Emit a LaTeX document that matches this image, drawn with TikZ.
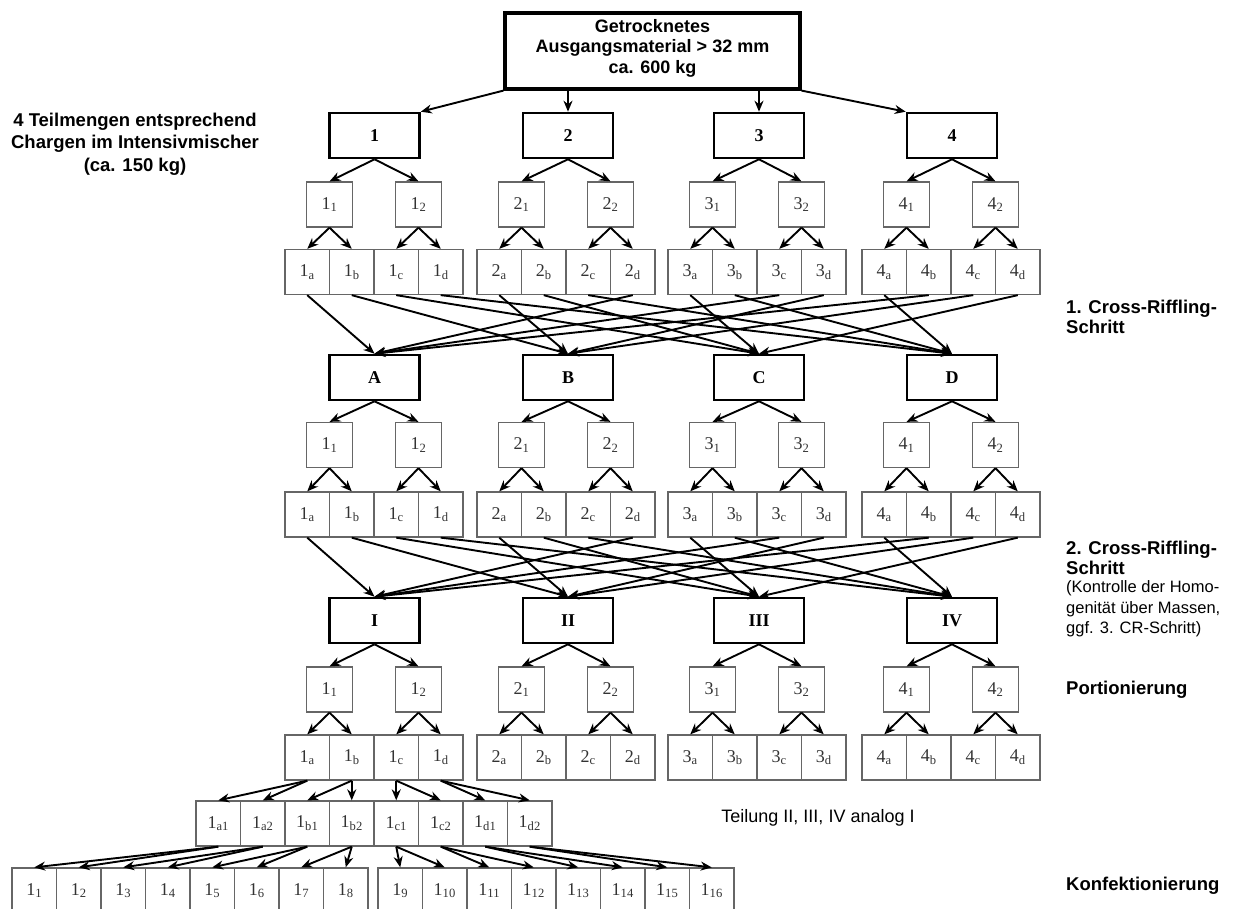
\documentclass[tikz,border=0pt]{standalone}
\usepackage{fontspec}
\setmainfont{Liberation Serif}
\setsansfont{Liberation Sans}
\usetikzlibrary{arrows.meta}

\begin{document}
\begin{tikzpicture}[x=1pt, y=-1pt]
    \tikzstyle{source} = [rectangle, draw, line width=3.2pt, minimum width=295pt, minimum height=76pt, inner sep=0pt, text depth=10pt, align=center, font=\sffamily\bfseries\fontsize{18}{20.5}\selectfont]
    \tikzstyle{batch} = [rectangle, draw, line width=2.6pt, minimum width=90pt, minimum height=45pt, inner sep=0pt, font=\bfseries\fontsize{18}{18}\selectfont]
    \tikzstyle{part} = [rectangle, draw=black!60, line width=1.3pt, minimum width=46pt, minimum height=45pt, inner sep=0pt, text=black!80, font=\fontsize{18}{18}\selectfont]
    \tikzstyle{cell} = [part, minimum width=44.5pt]
    \tikzstyle{arrow} = [line width=1.9pt, -{Stealth[length=11pt, width=9pt]}]
    \tikzstyle{stage} = [inner sep=0pt, align=left, font=\sffamily\bfseries\fontsize{18.5}{20.5}\selectfont]
    \tikzstyle{remark} = [inner sep=0pt, align=left, font=\sffamily\fontsize{16.5}{20.5}\selectfont]

    \useasboundingbox (0,0) rectangle (1241,908);

    \node (input) [source] at (652.5,51) {Getrocknetes\\Ausgangsmaterial > 32 mm\\ca. 600 kg};

    \node (b1-1) [batch] at (374.5,135.5) {1};
    \node (b1-2) [batch] at (568,135.5) {2};
    \node (b1-3) [batch] at (759,135.5) {3};
    \node (b1-4) [batch] at (952,135.5) {4};

    \node (b2-1) [batch] at (374.5,377.5) {A};
    \node (b2-2) [batch] at (568,377.5) {B};
    \node (b2-3) [batch] at (759,377.5) {C};
    \node (b2-4) [batch] at (952,377.5) {D};

    \node (b3-1) [batch] at (374.5,620.5) {I};
    \node (b3-2) [batch] at (568,620.5) {II};
    \node (b3-3) [batch] at (759,620.5) {III};
    \node (b3-4) [batch] at (952,620.5) {IV};

    \draw [arrow] (input.south west) -- (b1-1.north east);
    \draw [arrow] (input.south -| b1-2) -- (b1-2.north);
    \draw [arrow] (input.south -| b1-3) -- (b1-3.north);
    \draw [arrow] (input.south east) -- (b1-4.north west);

    % halves and quarters of every batch
    \foreach \t/\ys/\yc in {1/204.5/272, 2/445/514.5, 3/689.5/757.5} {
        \foreach \g/\x in {1/285, 2/477, 3/668, 4/862} {
            \node (s\t-\g-1) [part] at (\x+44.5,\ys) {\g\textsubscript{1}};
            \node (s\t-\g-2) [part] at (\x+133.5,\ys) {\g\textsubscript{2}};
            \foreach \l [count=\n] in {a,b,c,d}
                \node (c\t-\g-\l) [cell] at (\x+44.5*\n-22.25,\yc) {\g\textsubscript{\l}};
            \draw [arrow] (b\t-\g.south) -- (s\t-\g-1.north);
            \draw [arrow] (b\t-\g.south) -- (s\t-\g-2.north);
            \draw [arrow] (s\t-\g-1.south) -- (c\t-\g-a.north);
            \draw [arrow] (s\t-\g-1.south) -- (c\t-\g-b.north);
            \draw [arrow] (s\t-\g-2.south) -- (c\t-\g-c.north);
            \draw [arrow] (s\t-\g-2.south) -- (c\t-\g-d.north);
        }
    }

    % cross riffling
    \foreach \t/\u in {1/2, 2/3}
        \foreach \g/\l/\k in {1/a/1, 1/b/2, 1/c/3, 1/d/4, 2/a/2, 2/b/3, 2/c/4, 2/d/1,
                              3/a/3, 3/b/4, 3/c/1, 3/d/2, 4/a/4, 4/b/1, 4/c/2, 4/d/3}
            \draw [arrow] (c\t-\g-\l.south) -- (b\u-\k.north);

    % portions of 1a..1d
    \foreach \i/\l in {1/a1, 2/a2, 3/b1, 4/b2, 5/c1, 6/c2, 7/d1, 8/d2}
        \node (e-\i) [cell] at (196+44.5*\i-22.25,823.5) {1\textsubscript{\l}};
    \foreach \i in {1,...,16}
        \node (f-\i) [cell] at ({12+44.5*\i-22.25+10*(\i>8)},890.5) {1\textsubscript{\i}};

    \foreach \l [count=\n] in {a,b,c,d} {
        \pgfmathtruncatemacro\p{2*\n-1}
        \pgfmathtruncatemacro\q{2*\n}
        \draw [arrow] (c3-1-\l.south) -- (e-\p.north);
        \draw [arrow] (c3-1-\l.south) -- (e-\q.north);
    }
    \foreach \i in {1,...,8} {
        \pgfmathtruncatemacro\p{2*\i-1}
        \pgfmathtruncatemacro\q{2*\i}
        \draw [arrow] (e-\i.south) -- (f-\p.north);
        \draw [arrow] (e-\i.south) -- (f-\q.north);
    }

    \node (charge) [stage, align=center, font=\sffamily\bfseries\fontsize{18.5}{22.5}\selectfont] at (135,144) {4 Teilmengen entsprechend\\Chargen im Intensivmischer\\(ca. 150 kg)};
    \node (cr1) [stage, anchor=west] at (1066,317) {1. Cross-Riffling-\\Schritt};
    \node (cr2) [stage, anchor=west] at (1066,558) {2. Cross-Riffling-\\Schritt};
    \node (check) [remark, anchor=west] at (1066,609) {(Kontrolle der Homo-\\genität über Massen,\\ggf. 3. CR-Schritt)};
    \node (portion) [stage, anchor=west] at (1066,690) {Portionierung};
    \node (split) [remark, font=\sffamily\fontsize{18}{20}\selectfont] at (818,818) {Teilung II, III, IV analog I};
    \node (konf) [stage, anchor=west] at (1066,886) {Konfektionierung};
\end{tikzpicture}
\end{document}
